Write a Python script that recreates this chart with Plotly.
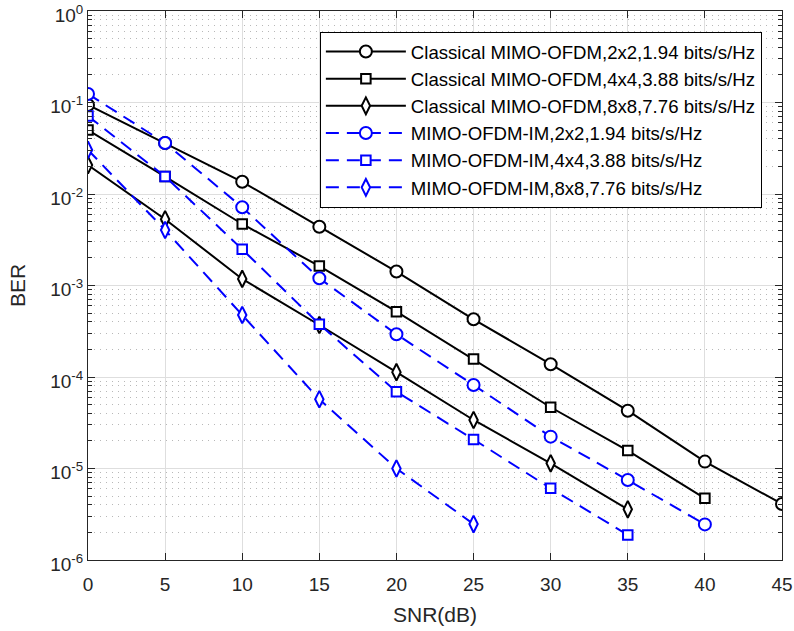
import plotly.graph_objects as go

snr = [0, 5, 10, 15, 20, 25, 30, 35, 40, 45]

classical_2x2 = [0.094, 0.0361, 0.0136, 0.00439, 0.00142, 4.27e-4, 1.38e-4, 4.28e-5, 1.19e-5, 4.1e-6]
classical_4x4 = [0.050, 0.0155, 0.0047, 0.00163, 5.17e-4, 1.57e-4, 4.67e-5, 1.57e-5, 4.72e-6]
classical_8x8 = [0.0207, 0.00529, 0.00118, 3.70e-4, 1.13e-4, 3.39e-5, 1.14e-5, 3.58e-6]
im_2x2 = [0.124, 0.0361, 0.00716, 0.0012, 2.93e-4, 8.18e-5, 2.23e-5, 7.48e-6, 2.45e-6]
im_4x4 = [0.0712, 0.0155, 0.00249, 3.77e-4, 6.9e-5, 2.08e-5, 6.07e-6, 1.88e-6]
im_8x8 = [0.0303, 0.00404, 4.76e-4, 5.71e-5, 1.0e-5, 2.47e-6]

names = [
    "Classical MIMO-OFDM,2x2,1.94 bits/s/Hz",
    "Classical MIMO-OFDM,4x4,3.88 bits/s/Hz",
    "Classical MIMO-OFDM,8x8,7.76 bits/s/Hz",
    "MIMO-OFDM-IM,2x2,1.94 bits/s/Hz",
    "MIMO-OFDM-IM,4x4,3.88 bits/s/Hz",
    "MIMO-OFDM-IM,8x8,7.76 bits/s/Hz",
]

x_ticks = [0, 5, 10, 15, 20, 25, 30, 35, 40, 45]
y_tickvals = [1e-6, 1e-5, 1e-4, 1e-3, 1e-2, 1e-1, 1e0]
y_ticktext = ["10<sup>-6</sup>", "10<sup>-5</sup>", "10<sup>-4</sup>", "10<sup>-3</sup>",
              "10<sup>-2</sup>", "10<sup>-1</sup>", "10<sup>0</sup>"]

series = [classical_2x2, classical_4x4, classical_8x8, im_2x2, im_4x4, im_8x8]
colors = ["#000000"] * 3 + ["#0000ff"] * 3
dashes = ["solid"] * 3 + ["13px,8px"] * 3
symbols = ["circle", "square", "diamond-tall"] * 2
sizes = [12, 9.5, 12] * 2

FONT = "Liberation Sans, Arial, Helvetica, sans-serif"

fig = go.Figure()
for ys, nm, c, d, s, sz in zip(series, names, colors, dashes, symbols, sizes):
    fig.add_trace(go.Scatter(
        x=snr[:len(ys)], y=ys, name=nm, mode="lines+markers",
        line=dict(color=c, width=2, dash=d),
        marker=dict(symbol=s, size=sz, color="white", line=dict(color=c, width=2)),
    ))

axcol = "#262626"
fig.update_layout(
    width=794, height=631,
    margin=dict(l=88, r=12, t=11, b=71, autoexpand=False),
    paper_bgcolor="white", plot_bgcolor="white",
    font=dict(family=FONT, size=18, color=axcol),
    showlegend=True,
    legend=dict(
        x=0.971, y=0.962, xanchor="right", yanchor="top",
        bgcolor="white", bordercolor="#000000", borderwidth=1,
        font=dict(family=FONT, size=18.6, color="#000000"),
        itemwidth=80, tracegroupgap=0,
    ),
    xaxis=dict(
        range=[0, 45], tickvals=x_ticks, ticktext=[str(v) for v in x_ticks],
        showline=True, linecolor=axcol, linewidth=1, mirror="ticks",
        ticks="inside", ticklen=7, tickcolor=axcol,
        showgrid=True, gridcolor="#dedede", gridwidth=1,
        zeroline=False, automargin=False, ticklabeloverflow="allow",
        ticklabelstandoff=7,
        title=dict(text="SNR(dB)", font=dict(family=FONT, size=21, color=axcol), standoff=13),
        tickfont=dict(family=FONT, size=19, color=axcol),
    ),
    yaxis=dict(
        type="log", range=[-6, 0],
        tickmode="array", tickvals=y_tickvals, ticktext=y_ticktext,
        showline=True, linecolor=axcol, linewidth=1, mirror="ticks",
        ticks="inside", ticklen=7, tickcolor=axcol,
        showgrid=True, gridcolor="#dedede", gridwidth=1,
        zeroline=False, automargin=False, ticklabeloverflow="allow",
        ticklabelshift=4,
        minor=dict(tickmode="linear", dtick="D1", ticks="inside", ticklen=4, tickcolor=axcol,
                   showgrid=True, gridcolor="#b8b8b8", griddash="1px,5px", gridwidth=1),
        title=dict(text="BER", font=dict(family=FONT, size=21, color=axcol), standoff=18),
        tickfont=dict(family=FONT, size=19, color=axcol),
    ),
)

# remove the default 8px page margin so the figure fills the window exactly
fig.write_html("out.html", config={"displayModeBar": False},
               post_script="document.body.style.margin='0px';")
